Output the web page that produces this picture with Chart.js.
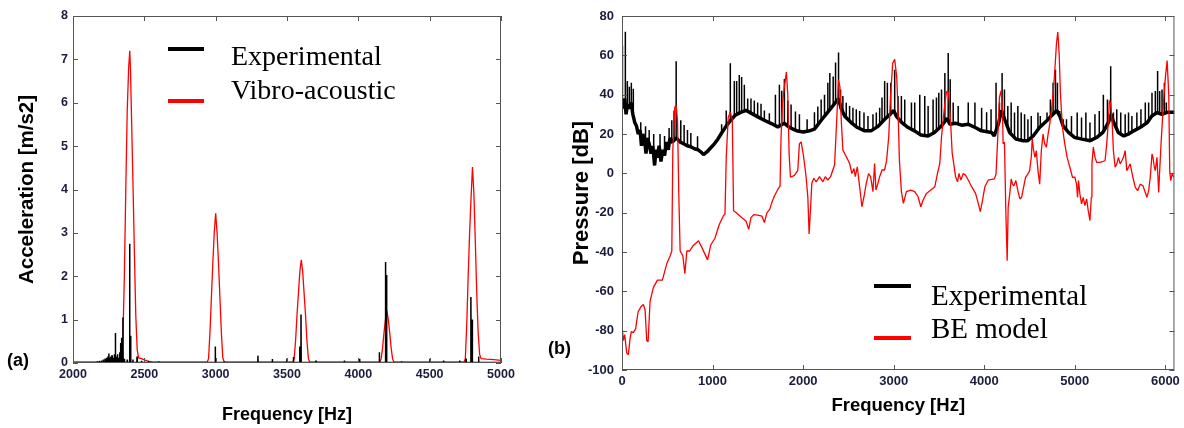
<!DOCTYPE html>
<html>
<head>
<meta charset="utf-8">
<script src="https://cdn.jsdelivr.net/npm/chart.js@4.4.0/dist/chart.umd.min.js"></script>
<style>
  body { margin: 0; background: #fff; width: 1184px; height: 428px; overflow: hidden; position: relative; }
  #wa { position: absolute; left: 0; top: 0; width: 540px; height: 428px; }
  #wb { position: absolute; left: 540px; top: 0; width: 644px; height: 428px; }
  .lg { position: absolute; font-family: "Liberation Serif", "Times New Roman", serif; white-space: nowrap; color: #000; }
  .sw { position: absolute; height: 4px; }
  .tag { position: absolute; font-family: "Liberation Sans", Arial, sans-serif; font-weight: bold; font-size: 18px; line-height: 18px; }
</style>
</head>
<body>
<div id="wa"><canvas id="ca"></canvas></div>
<div id="wb"><canvas id="cb"></canvas></div>

<!-- legends and panel tags -->
<div class="sw" style="left:168px;top:47px;width:36px;background:#000"></div>
<div class="lg" style="left:231px;top:42px;font-size:28px;line-height:28px">Experimental</div>
<div class="sw" style="left:168px;top:99px;width:36px;background:#ff0000"></div>
<div class="lg" style="left:231px;top:76px;font-size:28px;line-height:28px">Vibro-acoustic</div>
<div class="tag" style="left:7px;top:351px">(a)</div>

<div class="sw" style="left:874px;top:284px;width:37px;background:#000"></div>
<div class="lg" style="left:931px;top:281px;font-size:29px;line-height:29px">Experimental</div>
<div class="sw" style="left:874px;top:336px;width:37px;background:#ff0000"></div>
<div class="lg" style="left:931px;top:314px;font-size:29px;line-height:29px">BE model</div>
<div class="tag" style="left:548px;top:339px">(b)</div>

<script>
// ---- panel (a): acceleration 2000-5000 Hz ----
const aTicksX = [2000, 2500, 3000, 3500, 4000, 4500, 5000];
const aTicksY = [0, 1, 2, 3, 4, 5, 6, 7, 8];

// vibro-acoustic model (red)
const aModelFreq = [2000, 2300, 2330, 2340, 2350, 2360, 2370, 2380, 2390, 2398, 2403, 2410, 2420, 2430, 2440, 2450, 2460, 2480, 2500, 2530, 2560,
  2940, 2950, 2960, 2970, 2980, 2990, 3000, 3010, 3020, 3030, 3040, 3050, 3060,
  3540, 3550, 3560, 3570, 3580, 3590, 3600, 3610, 3620, 3630, 3640, 3650, 3660,
  4150, 4160, 4170, 4180, 4190, 4200, 4210, 4220, 4230, 4240, 4250,
  4740, 4750, 4760, 4770, 4780, 4790, 4800, 4810, 4820, 4830, 4840, 4850, 4860, 4900, 4950, 5000];
const aModelVal = [0.02, 0.02, 0.03, 0.1, 0.6, 2.0, 4.0, 5.8, 6.8, 7.2, 6.75, 5.7, 4.2, 2.6, 1.1, 0.3, 0.12, 0.1, 0.07, 0.04, 0.02,
  0.02, 0.1, 0.7, 1.5, 2.3, 3.0, 3.45, 3.0, 2.3, 1.5, 0.7, 0.12, 0.02,
  0.02, 0.1, 0.5, 1.1, 1.6, 2.1, 2.38, 2.1, 1.6, 1.1, 0.5, 0.1, 0.02,
  0.02, 0.1, 0.35, 0.7, 1.0, 1.2, 1.0, 0.7, 0.35, 0.1, 0.02,
  0.02, 0.1, 0.9, 2.0, 3.0, 3.8, 4.52, 3.9, 2.8, 1.6, 0.7, 0.2, 0.1, 0.09, 0.08, 0.06];

// experimental (black): narrow spikes above a flat floor
const aBase = 0.01;
const aSpikeFreq = [2150, 2170, 2185, 2200, 2212, 2225, 2236, 2245, 2252, 2258, 2266, 2274, 2282, 2290, 2297, 2305, 2312, 2320, 2328, 2335,
  2341, 2350, 2360, 2380, 2397, 2404, 2420, 2449, 2480, 2530, 2600, 2997, 3060, 3296, 3397, 3500, 3545, 3589, 3598, 3703,
  3902, 4009, 4147, 4189, 4192, 4198, 4303, 4502, 4597, 4710, 4755, 4789, 4798, 4843];
const aSpikeVal = [0.03, 0.04, 0.05, 0.06, 0.08, 0.1, 0.12, 0.15, 0.22, 0.12, 0.15, 0.18, 0.12, 0.2, 0.69, 0.15, 0.2, 0.12, 0.25, 0.46,
  0.58, 1.05, 0.1, 0.08, 2.75, 0.63, 0.08, 0.15, 0.05, 0.05, 0.04, 0.38, 0.04, 0.17, 0.09, 0.1, 0.14, 0.38, 1.12, 0.06,
  0.06, 0.1, 0.25, 1.0, 2.33, 2.03, 0.04, 0.1, 0.06, 0.06, 0.1, 1.52, 1.0, 0.15];

// ---- panel (b): pressure 0-6100 Hz ----
const bTicksX = [0, 1000, 2000, 3000, 4000, 5000, 6000];
const bTicksY = [-100, -80, -60, -40, -20, 0, 20, 40, 60, 80];

// BE model (red)
const bModelFreq = [0, 15, 30, 52, 70, 89, 103, 125, 151, 177, 207, 236, 255, 273, 288, 310, 347, 391, 446, 494, 531, 550, 561, 583, 598,
  613, 627, 642, 672, 694, 716, 745, 782, 845, 889, 945, 981, 1026, 1074, 1122, 1137, 1151, 1173, 1196, 1218, 1232, 1262, 1321, 1369,
  1399, 1424, 1454, 1498, 1546, 1572, 1601, 1631, 1653, 1683, 1720, 1745, 1756, 1771, 1793, 1815, 1830, 1845, 1860, 1904, 1941, 1959,
  1978, 2000, 2015, 2033, 2052, 2066, 2081, 2096, 2118, 2144, 2181, 2218, 2244, 2273, 2303, 2328, 2347, 2362, 2376, 2391, 2406, 2421,
  2439, 2458, 2487, 2513, 2539, 2561, 2576, 2598, 2624, 2649, 2672, 2697, 2723, 2745, 2771, 2789, 2804, 2826, 2845, 2871, 2900, 2922,
  2945, 2967, 2989, 3011, 3033, 3048, 3063, 3085, 3107, 3140, 3188, 3232, 3269, 3299, 3325, 3362, 3410, 3454, 3483, 3509, 3528, 3546,
  3565, 3583, 3602, 3616, 3631, 3646, 3668, 3683, 3705, 3720, 3742, 3768, 3793, 3823, 3860, 3904, 3934, 3956, 3978, 4007, 4044, 4081,
  4112, 4130, 4149, 4168, 4186, 4201, 4208, 4223, 4238, 4253, 4264, 4283, 4297, 4312, 4327, 4349, 4371, 4393, 4412, 4427, 4456, 4482,
  4501, 4519, 4530, 4545, 4560, 4575, 4593, 4612, 4630, 4649, 4667, 4686, 4705, 4723, 4742, 4760, 4779, 4797, 4812, 4827, 4841, 4863,
  4889, 4915, 4945, 4974, 5000, 5019, 5030, 5041, 5056, 5074, 5093, 5111, 5130, 5148, 5167, 5182, 5189, 5204, 5223, 5241, 5278, 5334,
  5352, 5371, 5382, 5396, 5411, 5426, 5445, 5463, 5482, 5500, 5519, 5537, 5556, 5574, 5593, 5611, 5641, 5667, 5693, 5722, 5752, 5778,
  5796, 5815, 5833, 5852, 5863, 5878, 5889, 5907, 5926, 5937, 5952, 5967, 5981, 6000, 6019, 6037, 6048, 6059, 6074, 6093];
const bModelLevel = [-77, -85, -82, -91.4, -92.2, -84, -80.5, -81, -79, -70.5, -68, -66.7, -69.5, -85, -85.6, -65, -58, -54.3, -54.3, -46, -42, -39.5, 11.5, 33.6, 34.5,
  27, -10.5, -39.5, -42, -51, -39.5, -39.5, -37, -34.3, -38.4, -44, -36.3, -33, -26, -21.3, -21, 8, 28.5, 31, 27, -19, -20, -22.5, -24.2,
  -28.5, -22.5, -21, -21.3, -21.8, -25, -20, -18.3, -15, -11.5, -8.2, -6.5, 18.5, 35.4, 44, 51.5, 40.5, 10, -2, -1, 1.5, 15,
  16, 10, 5, -2, -12.2, -30.8, -18.6, -5, -2.5, -4.3, -1.7, -4.3, -1.7, -3.4, -1.7, 1.7, 4.2, 18.6, 32.2, 47.4, 44, 27,
  11.8, 10.1, 7.5, 5, -0.1, 2.4, -1.7, 3.3, -6.8, -17, -11.9, -5.1, -0.1, -1.7, -9.3, 5, -8.5, -5.1, -1.7, 1.7, 1.7, 6.7,
  18.6, 40.6, 55.9, 58, 49.2, 32.2, 6.7, -9.3, -15.3, -9.3, -8.5, -9.3, -11.9, -17, -13.6, -10.2, -8.5, -6.8, -0.1, 5, 18.6, 27,
  35.5, 41.5, 41.5, 35.5, 23.6, 10.1, 3.3, -1.7, -4.3, -0.1, -3.4, -0.1, -0.9, -3.4, -6.8, -10.2, -15.3, -19.5, -14.4, -6.8, -3.4, -3.1,
  -2.8, -0.3, 18.3, 38.7, 42, 32, 15, 15.8, -19, -44.5, -17.3, -9.7, -2.9, -5.5, -6.3, -3.7, -8.8, -13, -12.2, -8.8, -2, -0.3,
  1.4, 8.1, 17.5, 11.5, 8.1, 11.5, 1.4, -5.5, 11.5, 20, 15, 13.3, 20, 25, 32, 40.4, 52.3, 65.9, 71.8, 60.8, 40.4, 23.5,
  15, 8.1, 3.1, -2, -2, -5.5, -12.2, -3.7, -10.5, -15.5, -12.2, -16.4, -13, -19, -24, -12.2, 4.8, 13.3, 8.1, 5.6, 5.6, 6.4,
  15, 26.8, 37, 35.3, 26.8, 11.5, 3.1, 4.8, 8.1, 4.8, 6.4, 8.1, 11.5, 1.4, 3.1, 4.8, -2, -7, -8.8, -5.5, -6.3, -9.7,
  -12.2, -8.8, -2, 9.8, 8.1, 3.1, 1.4, 8.1, -9.7, 1.4, 15, 26.8, 37, 48.8, 57.3, 40.4, 1.4, -3.7, -0.3, -2];

// experimental (black): broad noisy band
const bExpFreq = [0, 15, 30, 45, 60, 80, 100, 120, 140, 160, 180, 200, 215, 230, 250, 265, 280, 300, 320, 340, 360, 375, 390, 410, 430,
  450, 470, 490, 510, 530, 560, 600, 640, 680, 720, 760, 800, 840, 880, 900, 940, 980, 1020, 1060, 1100, 1150, 1200, 1250, 1310,
  1370, 1430, 1500, 1570, 1650, 1720, 1790, 1830, 1870, 1940, 2000, 2060, 2125, 2200, 2270, 2340, 2390, 2420, 2460, 2530, 2600, 2680,
  2750, 2830, 2900, 2960, 3000, 3030, 3090, 3160, 3230, 3300, 3380, 3450, 3530, 3590, 3620, 3680, 3750, 3820, 3900, 3970, 4080, 4110,
  4160, 4190, 4225, 4280, 4350, 4430, 4480, 4540, 4610, 4690, 4740, 4800, 4835, 4870, 4930, 5000, 5080, 5170, 5240, 5310, 5370, 5400,
  5430, 5480, 5540, 5590, 5650, 5720, 5800, 5850, 5910, 5960, 6020, 6100];
const bExpLevel = [37, 33, 38, 30, 35, 33, 36, 30, 26, 24, 20, 22, 14, 20, 17, 10, 18, 15, 10, 14, 4, 12, 8, 14, 6,
  12, 9, 16, 12, 18, 16, 18, 16, 15, 14, 13.5, 12.5, 12, 10.5, 9.5, 11, 13, 15, 17.5, 20.5, 24, 27, 29.5, 31,
  32, 30.5, 28.7, 27, 25.3, 23.6, 25.5, 24, 22.8, 21.5, 21, 21.5, 22.5, 27, 31, 35, 38, 33, 29, 25.8, 23.3, 21.6,
  21.6, 24, 27.5, 30, 32, 29, 25.8, 23.3, 21.6, 19.5, 19, 20.8, 24.2, 28, 25, 25.5, 24.5, 25, 23.3, 21.6, 20.8, 19,
  25.8, 32, 27.5, 20.8, 17.4, 16.6, 16.6, 19, 23.3, 26.7, 29.2, 32, 29, 24.2, 20.8, 18.2, 17.4, 16.6, 18.2, 20.8, 25.8, 30,
  25.8, 20.8, 19, 19.9, 21.6, 23.3, 25.8, 29.2, 30.9, 30, 31, 31];

// experimental (black): resonance spikes, from band level up to peak
const bSpikeFreq = [5, 37, 59, 81, 103, 125, 207, 260, 300, 350, 420, 470, 520, 550, 575, 598, 649, 686, 723, 760, 834, 1100, 1151, 1196,
  1240, 1266, 1295, 1321, 1351, 1388, 1424, 1461, 1498, 1535, 1572, 1627, 1694, 1738, 1764, 1793, 1830, 1867, 1915, 1959, 2044, 2125,
  2162, 2199, 2236, 2273, 2295, 2332, 2358, 2391, 2413, 2439, 2476, 2513, 2550, 2587, 2624, 2672, 2716, 2771, 2808, 2845, 2871, 2900,
  2930, 2967, 3011, 3048, 3085, 3122, 3196, 3232, 3288, 3343, 3380, 3435, 3472, 3498, 3528, 3565, 3602, 3624, 3657, 3712, 3823, 3897,
  3971, 4026, 4075, 4130, 4168, 4197, 4223, 4260, 4297, 4334, 4371, 4408, 4445, 4482, 4519, 4593, 4619, 4693, 4730, 4760, 4786, 4808,
  4834, 4871, 4908, 4963, 5026, 5074, 5122, 5167, 5222, 5270, 5315, 5360, 5396, 5426, 5463, 5507, 5556, 5593, 5630, 5685, 5730, 5778,
  5815, 5852, 5889, 5914, 5937, 5963, 5989, 6011];
const bSpikeBase = [36, 34, 35, 33, 34, 32, 22, 17, 15, 12, 12, 10, 13, 15, 17, 18, 16, 15, 14, 13.5, 12, 20, 24, 27,
  29, 30, 30, 31, 31, 32, 31, 30, 29, 28, 27, 26, 24, 24, 25, 25, 24, 23, 22, 21.5, 21.5, 22.5,
  24, 27, 29, 31, 32, 34, 36, 38, 35, 31, 28, 26, 25, 24, 23, 22, 21.6, 22, 23, 25, 26, 27.5,
  29, 30, 31, 28, 26, 24.5, 22.5, 21.6, 20, 19, 19, 20, 21, 22, 24, 26, 28, 25, 25, 24.8, 25, 23.3,
  21.6, 21, 20.8, 21, 27, 32, 27.5, 22, 20, 18.5, 17, 16.6, 16.6, 16.6, 18, 22, 23.5, 27, 28.5, 30, 31.5, 31,
  29, 24, 21.5, 19, 18, 17.4, 17, 16.6, 17.7, 19.5, 20.8, 24, 30, 25.8, 22, 20, 19, 19.9, 21, 22.5, 23.3, 25,
  26, 29, 30.5, 30.9, 30.5, 30, 30.5, 31];
const bSpikeTop = [65, 72, 47, 44, 46, 43, 26, 24, 22, 20, 20, 19, 23, 27, 32, 57, 27, 24.6, 22, 20.5, 18.8, 25, 32, 56,
  47, 47, 50, 49, 45, 38, 38, 37, 36, 35.4, 32, 30.6, 40, 45, 42, 48, 37, 35, 31.4, 30, 27.5, 31,
  34, 37.6, 40, 46, 51, 49.3, 56.4, 61.5, 42.6, 39.3, 35.9, 34.3, 33.4, 32.6, 31.7, 30.9, 29.2, 30, 30.9, 33.4, 38.5, 46.9,
  46, 46, 52.7, 39.3, 39.3, 37.6, 36, 36, 40, 39.3, 34.3, 37.6, 38.5, 41, 42.6, 51, 61.2, 47.8, 36, 34.3, 36, 36,
  33.4, 31, 32.6, 46, 36, 51, 42.6, 34.3, 36, 30.9, 34.3, 30.9, 30, 27.5, 29.2, 30.9, 29.2, 30.9, 37.6, 46, 52.7, 46,
  31.7, 27.5, 27.5, 29.2, 30.9, 28.4, 30.9, 25.8, 30, 31.7, 40, 37.6, 54.4, 30.9, 32.6, 30.9, 30, 30.9, 29.2, 30.9, 32.6, 36,
  36, 41, 41.9, 52, 41.9, 42.6, 46, 36];

const tickFont = { family: '"Liberation Sans", Arial, sans-serif', weight: 'bold' };
const tickColor = '#1b1d3c';

// inward ticks on all four sides plus the plot frame
const frameTicks = {
  id: 'frameTicks',
  afterDatasetsDraw(chart) {
    const { ctx, chartArea: a, scales: { x, y } } = chart;
    ctx.save();
    ctx.strokeStyle = '#555';
    ctx.lineWidth = 1;
    ctx.strokeRect(a.left + 0.5, a.top + 0.5, a.width - 1, a.height - 1);
    ctx.beginPath();
    x.ticks.forEach(t => {
      const px = Math.round(x.getPixelForValue(t.value)) + 0.5;
      ctx.moveTo(px, a.bottom); ctx.lineTo(px, a.bottom - 5);
      ctx.moveTo(px, a.top); ctx.lineTo(px, a.top + 5);
    });
    y.ticks.forEach(t => {
      const py = Math.round(y.getPixelForValue(t.value)) + 0.5;
      ctx.moveTo(a.left, py); ctx.lineTo(a.left + 5, py);
      ctx.moveTo(a.right, py); ctx.lineTo(a.right - 5, py);
    });
    ctx.stroke();
    ctx.restore();
  }
};

function axis(min, max, ticks, size, pad, fit, title) {
  return {
    type: 'linear', min, max,
    afterBuildTicks: s => { s.ticks = ticks.map(v => ({ value: v })); },
    afterFit: fit,
    grid: { display: false, drawTicks: false },
    border: { display: false },
    ticks: { font: { ...tickFont, size }, color: tickColor, padding: pad, maxRotation: 0, autoSkip: false, callback: v => v },
    title
  };
}

function baseOptions(padding, xAxis, yAxis) {
  return {
    responsive: true, maintainAspectRatio: false, animation: false,
    layout: { padding },
    elements: { point: { radius: 0 }, line: { tension: 0, borderJoinStyle: 'bevel' } },
    plugins: { legend: { display: false }, tooltip: { enabled: false } },
    scales: { x: xAxis, y: yAxis }
  };
}

// panel (a)
const aExp = [{ x: 2000, y: aBase }];
aSpikeFreq.forEach((f, i) => {
  aExp.push({ x: f - 1.5, y: aBase }, { x: f, y: aSpikeVal[i] }, { x: f + 1.5, y: aBase });
});
aExp.push({ x: 5000, y: aBase });

new Chart(document.getElementById('ca'), {
  type: 'line',
  data: {
    datasets: [
      { label: 'Experimental', data: aExp, borderColor: '#000', borderWidth: 1.5 },
      { label: 'Vibro-acoustic', data: aModelFreq.map((f, i) => ({ x: f, y: aModelVal[i] })), borderColor: '#ff0000', borderWidth: 1.3 }
    ]
  },
  options: baseOptions({ left: 0, top: 16, right: 39, bottom: 0 },
    axis(2000, 5000, aTicksX, 12.5, 4, s => { s.height = 65; },
      { display: true, text: 'Frequency [Hz]', color: '#000', font: { ...tickFont, size: 18 }, padding: { top: 0, bottom: 2 } }),
    axis(0, 8, aTicksY, 12.5, 5, s => { s.width = 73; },
      { display: true, text: 'Acceleration [m/s2]', color: '#000', font: { ...tickFont, size: 20.5 }, padding: { top: 15, bottom: 0 } })),
  plugins: [frameTicks]
});

// panel (b)
const bSpikes = [];
bSpikeFreq.forEach((f, i) => {
  bSpikes.push({ x: f, y: bSpikeBase[i] }, { x: f, y: bSpikeTop[i] }, { x: f, y: null });
});

new Chart(document.getElementById('cb'), {
  type: 'line',
  data: {
    datasets: [
      { label: 'BE model', data: bModelFreq.map((f, i) => ({ x: f, y: bModelLevel[i] })), borderColor: '#ff0000', borderWidth: 1.3 },
      { label: 'Experimental', data: bExpFreq.map((f, i) => ({ x: f, y: bExpLevel[i] })), borderColor: '#000', borderWidth: 3.5 },
      { label: 'Experimental peaks', data: bSpikes, borderColor: '#000', borderWidth: 1.5, spanGaps: false }
    ]
  },
  options: baseOptions({ left: 0, top: 16, right: 9, bottom: 0 },
    axis(0, 6100, bTicksX, 13, 4, s => { s.height = 58; },
      { display: true, text: 'Frequency [Hz]', color: '#000', font: { ...tickFont, size: 18.5 }, padding: { top: 0, bottom: 11 } }),
    axis(-100, 80, bTicksY, 13, 8, s => { s.width = 82; },
      { display: true, text: 'Pressure [dB]', color: '#000', font: { ...tickFont, size: 22 }, padding: { top: 29, bottom: 0 } })),
  plugins: [frameTicks]
});
</script>
</body>
</html>
